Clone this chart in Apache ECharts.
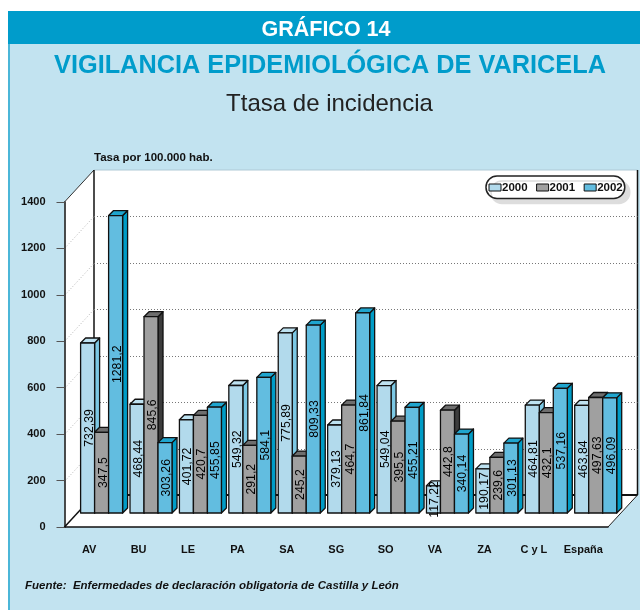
<!DOCTYPE html>
<html>
<head>
<meta charset="utf-8">
<style>
html, body { margin: 0; padding: 0; background: #fff; }
#chart { width: 640px; height: 610px; }
</style>
<script src="https://cdn.jsdelivr.net/npm/echarts@6/dist/echarts.min.js"></script>
</head>
<body>
<div id="chart"></div>
<script>
// datos
const categories = ['AV', 'BU', 'LE', 'PA', 'SA', 'SG', 'SO', 'VA', 'ZA', 'C y L', 'España'];
const years = ['2000', '2001', '2002'];
const values2000 = [732.39, 468.44, 401.72, 549.32, 775.89, 379.13, 549.04, 117.22, 190.17, 464.81, 463.84];
const values2001 = [347.5, 845.6, 420.7, 291.2, 245.2, 464.7, 395.5, 442.8, 239.6, 432.1, 497.63];
const values2002 = [1281.2, 303.26, 455.85, 584.1, 809.33, 861.84, 455.21, 340.14, 301.13, 537.16, 496.09];
const yTicks = [200, 400, 600, 800, 1000, 1200];

// colores de cada serie: frente, tapa, lateral
const faces = [
    { front: '#B2DAEC', top: '#BEE2F1', side: '#7CC8E4' },
    { front: '#A0A0A0', top: '#6E6E6E', side: '#3C3C3C' },
    { front: '#62BDE0', top: '#1FA5CE', side: '#009CC6' }
];

const INK = '#111';
const WALL_DX = 29.5, WALL_DY = -32;  // fondo de la caja 3D
const BAR_DX = 12.4, BAR_DY = -14;    // desplazamiento de las barras sobre el suelo
const BAR_W = 14, BAR_DEPTH = 5;

var myChart = echarts.init(document.getElementById('chart'));

// paredes y suelo
function renderWalls(params, api) {
    const c = params.coordSys;
    const l = c.x, r = c.x + c.width, t = c.y, b = c.y + c.height;
    const line = (x1, y1, x2, y2, width, color) => ({
        type: 'line', shape: { x1, y1, x2, y2 }, style: { stroke: color, lineWidth: width }
    });
    return {
        type: 'group',
        children: [
            { type: 'rect', shape: { x: l + WALL_DX, y: t + WALL_DY, width: c.width, height: c.height }, style: { fill: '#fff' } },
            { type: 'polygon', shape: { points: [[l, t], [l + WALL_DX, t + WALL_DY], [l + WALL_DX, b + WALL_DY], [l, b]] }, style: { fill: '#fff', stroke: null } },
            { type: 'polygon', shape: { points: [[l, b], [l + WALL_DX, b + WALL_DY], [r + WALL_DX, b + WALL_DY], [r, b]] }, style: { fill: '#fff', stroke: null } },
            line(l + WALL_DX, t + WALL_DY, r + WALL_DX, t + WALL_DY, 1, '#AFC9D6'),
            line(l, t, l + WALL_DX, t + WALL_DY, 1, '#333'),
            line(l + WALL_DX, t + WALL_DY, l + WALL_DX, b + WALL_DY, 1.5, INK),
            line(r + WALL_DX, t + WALL_DY, r + WALL_DX, b + WALL_DY, 1.5, INK),
            line(l + WALL_DX, b + WALL_DY, r + WALL_DX, b + WALL_DY, 2, INK),
            line(l, b, l + WALL_DX, b + WALL_DY, 1.5, INK),
            line(r, b, r + WALL_DX, b + WALL_DY, 1, '#222')
        ]
    };
}

// lineas punteadas en el fondo y en el lateral
function renderGridLines(params, api) {
    const c = params.coordSys;
    const y = Math.round(api.coord([0, api.value(1)])[1]) + 0.5;
    const dotted = (x1, y1, x2, y2, color) => ({
        type: 'line', shape: { x1, y1, x2, y2 }, style: { stroke: color, lineWidth: 1, lineDash: [1, 2] }
    });
    return {
        type: 'group',
        children: [
            dotted(c.x + WALL_DX, y + WALL_DY, c.x + c.width + WALL_DX, y + WALL_DY, '#777'),
            dotted(c.x, y, c.x + WALL_DX, y + WALL_DY, '#B5B5B5')
        ]
    };
}

// barra 3D de una serie, con su etiqueta girada
function makeBarRenderer(s) {
    return function (params, api) {
        const v = api.value(1);
        const center = api.coord([api.value(0), 0]);
        const x = center[0] + BAR_DX + (s - 1.5) * BAR_W;
        const base = center[1] + BAR_DY;
        const top = api.coord([api.value(0), v])[1] + BAR_DY;
        const border = { stroke: INK, lineWidth: 1.3, lineJoin: 'round' };
        return {
            type: 'group',
            children: [
                {
                    type: 'polygon',
                    shape: { points: [[x + BAR_W, top], [x + BAR_W + BAR_DEPTH, top - BAR_DEPTH], [x + BAR_W + BAR_DEPTH, base - BAR_DEPTH], [x + BAR_W, base]] },
                    style: Object.assign({ fill: faces[s].side }, border)
                },
                {
                    type: 'polygon',
                    shape: { points: [[x, top], [x + BAR_DEPTH, top - BAR_DEPTH], [x + BAR_W + BAR_DEPTH, top - BAR_DEPTH], [x + BAR_W, top]] },
                    style: Object.assign({ fill: faces[s].top }, border)
                },
                {
                    type: 'rect',
                    shape: { x: x, y: top, width: BAR_W, height: base - top },
                    style: Object.assign({ fill: faces[s].front }, border)
                },
                {
                    type: 'text',
                    x: x + BAR_W / 2 + 1.5,
                    y: (top + base) / 2,
                    rotation: Math.PI / 2,
                    z2: 10,
                    style: {
                        text: String(v).replace('.', ','),
                        align: 'center',
                        verticalAlign: 'middle',
                        fill: '#000',
                        font: '12.3px "Liberation Sans"'
                    }
                }
            ]
        };
    };
}

const barValues = [values2000, values2001, values2002];

var option = {
    animation: false,
    backgroundColor: '#fff',
    textStyle: { fontFamily: 'Liberation Sans' },
    graphic: [
        { type: 'rect', z: -10, shape: { x: 8, y: 11, width: 632, height: 599 }, style: { fill: '#C2E3F0' } },
        { type: 'rect', z: -9, shape: { x: 8, y: 11, width: 2, height: 599 }, style: { fill: '#4BB6D8' } },
        { type: 'rect', z: -9, shape: { x: 8, y: 11, width: 632, height: 33 }, style: { fill: '#009CCB' } }
    ],
    title: [
        { text: 'GRÁFICO 14', left: 321, top: 14, textAlign: 'center', textStyle: { color: '#fff', fontSize: 21.5, fontWeight: 'bold', fontFamily: 'Liberation Sans' } },
        { text: 'VIGILANCIA EPIDEMIOLÓGICA DE VARICELA', left: 325, top: 49, textAlign: 'center', textStyle: { color: '#009CCB', fontSize: 25.3, fontWeight: 'bold', fontFamily: 'Liberation Sans' } },
        { text: 'Ttasa de incidencia', left: 324.5, top: 87, textAlign: 'center', textStyle: { color: '#222', fontSize: 24, fontWeight: 'normal', fontFamily: 'Liberation Sans' } },
        { text: 'Tasa por 100.000 hab.', left: 89, top: 147, textStyle: { color: INK, fontSize: 11.5, fontWeight: 'bold', fontFamily: 'Liberation Sans' } },
        { text: 'Fuente:  Enfermedades de declaración obligatoria de Castilla y León', left: 20, top: 575, textStyle: { color: INK, fontSize: 11.5, fontWeight: 'bold', fontStyle: 'italic', fontFamily: 'Liberation Sans' } }
    ],
    legend: {
        data: years,
        left: 486,
        top: 176,
        padding: [5.5, 2, 5, 2.5],
        itemWidth: 12,
        itemHeight: 7,
        itemGap: 8.5,
        selectedMode: false,
        icon: 'rect',
        backgroundColor: '#fff',
        borderColor: '#222',
        borderWidth: 1.5,
        borderRadius: 11,
        shadowColor: '#DDD',
        shadowBlur: 0,
        shadowOffsetX: 5,
        shadowOffsetY: 5,
        itemStyle: { borderColor: INK, borderWidth: 1 },
        textStyle: { color: INK, fontSize: 11.5, fontWeight: 'bold', fontFamily: 'Liberation Sans', padding: [0, 0, 0, -4] }
    },
    grid: { left: 64.5, right: 32, top: 202, bottom: 83 },
    xAxis: {
        type: 'category',
        data: categories,
        z: 5,
        axisLine: { lineStyle: { color: INK, width: 1.5 } },
        axisTick: { alignWithLabel: true, length: 10, lineStyle: { color: '#555' } },
        axisLabel: { color: INK, fontSize: 11, fontWeight: 'bold', margin: 17, interval: 0 }
    },
    yAxis: {
        type: 'value',
        min: 0,
        max: 1400,
        interval: 200,
        z: 5,
        axisLine: { show: true, lineStyle: { color: INK, width: 1.5 } },
        axisTick: { show: true, length: 8, lineStyle: { color: '#555' } },
        axisLabel: { color: INK, fontSize: 11, fontWeight: 'bold', margin: 19, formatter: v => String(v) },
        splitLine: { show: false }
    },
    series: [
        { type: 'custom', name: 'walls', z: 1, silent: true, renderItem: renderWalls, data: [[0, 0]] },
        { type: 'custom', name: 'gridLines', z: 1, silent: true, renderItem: renderGridLines, data: yTicks.map(v => [0, v]) }
    ].concat(years.map((year, s) => ({
        type: 'custom',
        name: year,
        z: 3,
        silent: true,
        itemStyle: { color: faces[s].front },
        renderItem: makeBarRenderer(s),
        data: barValues[s].map((v, i) => [i, v])
    })))
};

myChart.setOption(option);
</script>
</body>
</html>
